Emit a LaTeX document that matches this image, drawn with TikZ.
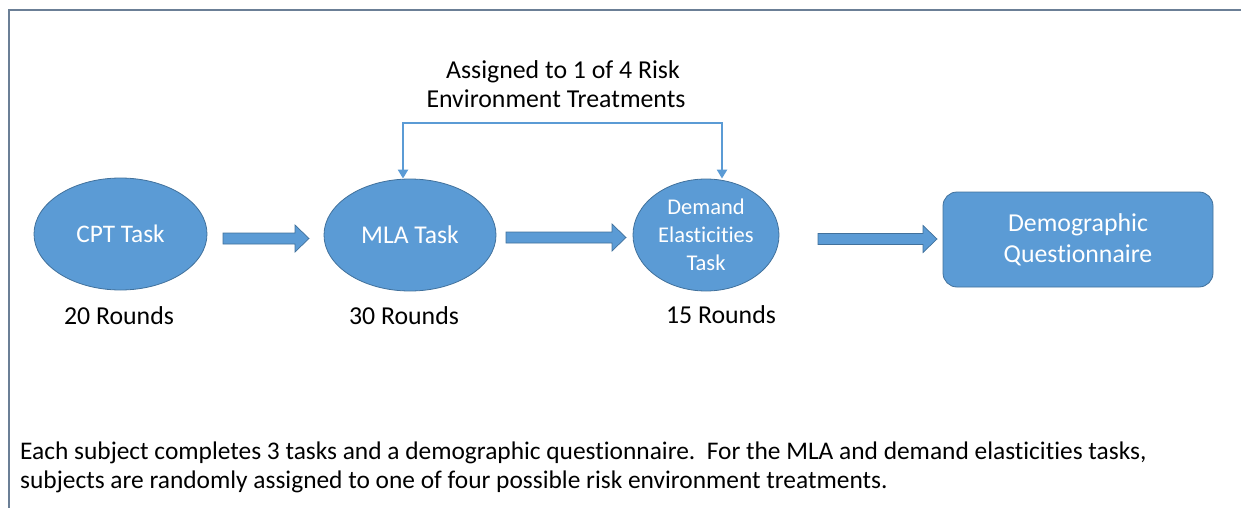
\documentclass[tikz,border=0pt]{standalone}
\usepackage{fontspec}
\setmainfont{Carlito}[Ligatures=NoCommon]
\usetikzlibrary{arrows.meta,shapes.geometric}
\definecolor{fillb}{HTML}{5B9BD5}
\definecolor{edgeb}{HTML}{41719C}
\definecolor{framec}{HTML}{6B7F96}
\newcommand\blockarr[3]{\draw[barrow] (#1,#3-5.5) -- (#2-14,#3-5.5) -- (#2-14,#3-13.5) -- (#2,#3) -- (#2-14,#3+13.5) -- (#2-14,#3+5.5) -- (#1,#3+5.5) -- cycle;}
\begin{document}
\begin{tikzpicture}[x=1pt,y=-1pt,
  task/.style={ellipse, fill=fillb, draw=edgeb, line width=0.8pt, inner sep=0pt, text=white, align=center},
  qbox/.style={rectangle, rounded corners=14pt, fill=fillb, draw=edgeb, line width=0.8pt, inner sep=0pt, text=white, align=center},
  barrow/.style={fill=fillb, draw=edgeb, line width=0.7pt, line join=miter},
  bracket/.style={draw=fillb, line width=2.2pt, {Triangle[width=10pt,length=9pt]}-{Triangle[width=10pt,length=9pt]}},
  lbl/.style={text=black, font=\fontsize{25.8}{29}\selectfont, align=center, inner sep=0pt},
  note/.style={text=black, font=\fontsize{25.4}{29}\selectfont, inner sep=0pt}
]
\useasboundingbox (0,0) rectangle (1241,508);
\clip (0,0) rectangle (1241,508);
\draw[framec, line width=1.5pt] (9,10) rectangle (1300,600);

\node[task, minimum width=173pt, minimum height=112pt, font=\fontsize{25.3}{29}\selectfont] (cpt) at (120.5,234) {CPT Task};
\node[task, minimum width=172pt, minimum height=112pt, font=\fontsize{25.6}{29}\selectfont] (mla) at (410,235) {MLA Task};
\node[task, minimum width=146pt, minimum height=112pt, font=\fontsize{22.5}{28}\selectfont] (dem) at (706,235) {Demand\\Elasticities\\Task};
\node[qbox, minimum width=270pt, minimum height=95pt, font=\fontsize{25.8}{31}\selectfont] (demo) at (1078,239.5) {Demographic\\Questionnaire};

\blockarr{223}{309}{238.5}
\blockarr{506}{626}{237.5}
\blockarr{818}{937}{239}

\coordinate (bl) at (403,123);
\coordinate (br) at (722,123);
\draw[bracket] (mla.north -| bl) -- (bl) -- (br) -- (dem.north -| br);

\node[lbl, anchor=base] (assign) at (563,79) {Assigned to 1 of 4 Risk};
\node[lbl, anchor=base] (assign2) at (556,108) {Environment Treatments};

\node[lbl, anchor=base] (r1) at (119,324) {20 Rounds};
\node[lbl, anchor=base] (r2) at (404,324) {30 Rounds};
\node[lbl, anchor=base] (r3) at (721,323) {15 Rounds};

\node[note, anchor=base west] (note1) at (20,459) {Each subject completes 3 tasks and a demographic questionnaire.\ \ For the MLA and demand elasticities tasks,};
\node[note, anchor=base west] (note2) at (20,488) {subjects are randomly assigned to one of four possible risk environment treatments.};
\end{tikzpicture}
\end{document}
